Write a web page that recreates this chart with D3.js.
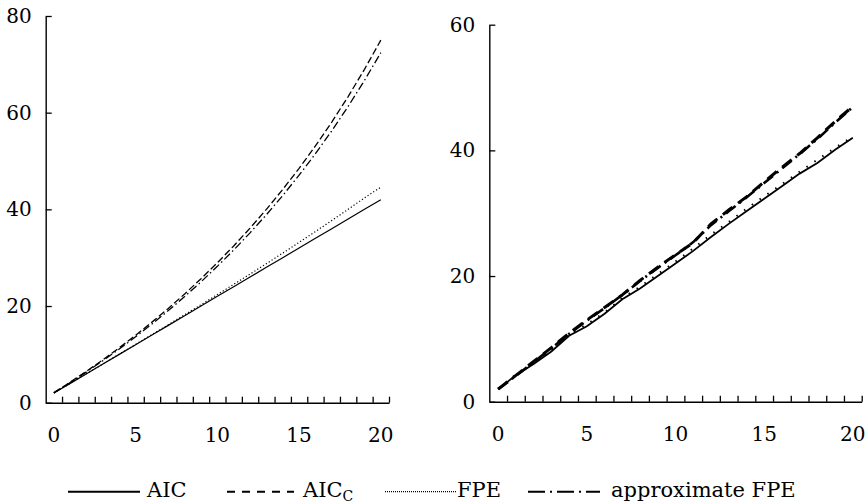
<!DOCTYPE html>
<html>
<head>
<meta charset="utf-8">
<script src="https://cdn.jsdelivr.net/npm/d3@7"></script>
<style>
  html, body { margin: 0; padding: 0; background: #fff; }
  svg { display: block; }
  svg text { fill: #000; }
</style>
</head>
<body>
<svg id="chart" width="865" height="502"></svg>
<script>
// Model order (number of parameters) on the horizontal axis
const orders = [0,1,2,3,4,5,6,7,8,9,10,11,12,13,14,15,16,17,18,19,20];
const orderLabels = [0, 5, 10, 15, 20];

// Left panel: penalty terms
const leftTicks = [0, 20, 40, 60, 80];
const leftAIC = [2,4,6,8,10,12,14,16,18,20,22,24,26,28,30,32,34,36,38,40,42];
const leftAICc = [2.08,4.26,6.52,8.89,11.36,13.95,16.67,19.51,22.5,25.64,28.95,32.43,36.11,40,44.12,48.48,53.13,58.06,63.33,68.97,75];
const leftFPE = [2,4,6.01,8.02,10.03,12.06,14.09,16.14,18.2,20.27,22.37,24.48,26.61,28.77,30.95,33.16,35.41,37.69,40.01,42.37,44.6];
const leftApproxFPE = [2.04,4.17,6.38,8.7,11.11,13.64,16.28,19.05,21.95,25,28.21,31.58,35.14,38.89,42.86,47.06,51.52,56.25,61.29,66.67,72.41];

// Right panel
const rightTicks = [0, 20, 40, 60];
const rightAIC = [2.0,4.2,6.0,8.0,10.5,12.0,14.0,16.3,18.0,20.0,22.0,24.0,26.2,28.3,30.3,32.3,34.3,36.3,38.0,40.1,42.0];
const rightAICc = [2.0,4.2,6.4,8.6,10.9,13.0,15.0,17.0,19.3,21.4,23.4,25.3,28.3,30.5,32.6,35.0,37.3,39.5,42.0,44.6,47.0];
const rightFPE = [2.1,4.3,6.2,8.2,10.7,12.3,14.2,16.5,18.3,20.3,22.3,24.4,26.6,28.6,30.7,32.7,34.6,36.6,38.5,40.4,42.2];
const rightApproxFPE = [2.0,4.1,6.3,8.5,10.8,12.9,14.9,17.0,19.2,21.3,23.3,25.4,28.1,30.3,32.5,34.8,37.1,39.4,41.8,44.4,46.9];

const FONT = "DejaVu Serif";
const svg = d3.select("#chart");

function drawPanel(opt) {
  const g = svg.append("g");
  const x = d3.scaleBand().domain(orders).range([opt.x0, opt.x1]).padding(0);
  const xb = d3.scaleLinear().domain([0, orders.length]).range([opt.x0, opt.x1]);
  const y = d3.scaleLinear().domain([0, opt.yMax]).range([opt.yBottom, opt.yTop]);

  // category boundary ticks, pointing inward
  g.append("g")
    .attr("transform", `translate(0,${opt.yBottom})`)
    .call(d3.axisBottom(xb).tickValues(d3.range(1, orders.length + 1)).tickSize(-6).tickSizeOuter(0).tickFormat(""))
    .call(a => a.selectAll("line").attr("stroke", "#000").attr("stroke-width", 1.3))
    .call(a => a.select(".domain").attr("stroke", "#000").attr("stroke-width", 1.4));

  // order labels at category centres
  g.append("g")
    .attr("transform", `translate(0,${opt.yBottom})`)
    .call(d3.axisBottom(x).tickValues(orderLabels).tickSize(0).tickPadding(25))
    .call(a => a.attr("font-family", FONT))
    .call(a => a.select(".domain").remove())
    .call(a => a.selectAll("text").attr("font-size", 20));

  // vertical axis
  g.append("g")
    .attr("transform", `translate(${opt.x0},0)`)
    .call(d3.axisLeft(y).tickValues(opt.ticks).tickSize(-6).tickSizeOuter(0).tickPadding(14))
    .call(a => a.attr("font-family", FONT))
    .call(a => a.selectAll("line").attr("stroke", "#000").attr("stroke-width", 1.3))
    .call(a => a.select(".domain").attr("stroke", "#000").attr("stroke-width", 1.4))
    .call(a => a.selectAll("text").attr("font-size", 20));

  const line = d3.line()
    .x((d, i) => x(orders[i]) + x.bandwidth() / 2)
    .y(d => y(d));

  opt.series.forEach(s => {
    g.append("path")
      .datum(s.values)
      .attr("d", line)
      .attr("fill", "none")
      .attr("stroke", "#000")
      .attr("stroke-width", s.width)
      .attr("stroke-dasharray", s.dash || null);
  });
}

drawPanel({
  x0: 45.7, x1: 389, yTop: 16, yBottom: 402.7, yMax: 80, ticks: leftTicks,
  series: [
    { values: leftAIC, width: 1.2 },
    { values: leftFPE, width: 1.2, dash: "1.2,2.2" },
    { values: leftApproxFPE, width: 1.3, dash: "8,3,1.5,3" },
    { values: leftAICc, width: 1.3, dash: "7,3" }
  ]
});

drawPanel({
  x0: 489.3, x1: 861.7, yTop: 24.7, yBottom: 401.7, yMax: 60, ticks: rightTicks,
  series: [
    { values: rightAIC, width: 1.8 },
    { values: rightFPE, width: 2, dash: "1.5,8" },
    { values: rightApproxFPE, width: 2.6, dash: "12,5,2,5" },
    { values: rightAICc, width: 3, dash: "12,7" }
  ]
});

// Legend
const legendItems = [
  { label: "AIC", x1: 68, x2: 140, tx: 147, width: 2, dash: null },
  { label: "AIC", sub: "C", x1: 227, x2: 294, tx: 303, width: 2, dash: "8,7" },
  { label: "FPE", x1: 385, x2: 456, tx: 457, width: 1.3, dash: "1,1" },
  { label: "approximate FPE", x1: 528, x2: 600, tx: 611, width: 2, dash: "17,5,2,5" }
];
const lg = svg.append("g").attr("font-family", FONT);
legendItems.forEach(it => {
  lg.append("line")
    .attr("x1", it.x1).attr("x2", it.x2)
    .attr("y1", 491.7).attr("y2", 491.7)
    .attr("stroke", "#000").attr("stroke-width", it.width)
    .attr("stroke-dasharray", it.dash);
  const t = lg.append("text")
    .attr("x", it.tx).attr("y", 496.5)
    .attr("font-size", 21)
    .text(it.label);
  if (it.sub) {
    t.append("tspan").attr("dy", 4).attr("font-size", 14).text(it.sub);
  }
});
</script>
</body>
</html>
